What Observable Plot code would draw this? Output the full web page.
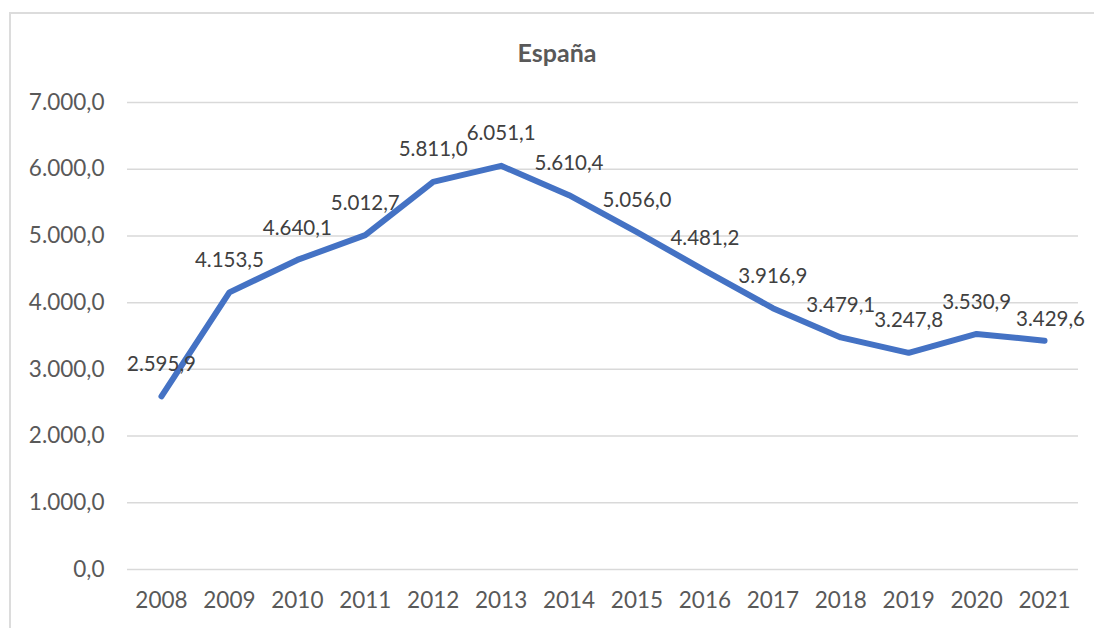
<!DOCTYPE html>
<html>
<head>
<meta charset="utf-8">
<script src="https://cdn.jsdelivr.net/npm/d3@7"></script>
<script src="https://cdn.jsdelivr.net/npm/@observablehq/plot@0.6"></script>
<style>
  html, body { margin: 0; padding: 0; background: #fff; }
  #wrap { position: relative; width: 1094px; height: 628px; overflow: hidden; font-family: Lato, "Open Sans", sans-serif; }
  #frame { position: absolute; left: 9px; top: 12px; width: 1200px; height: 700px; border-left: 2px solid #dcdcdc; border-top: 2px solid #dcdcdc; box-sizing: border-box; }
  #title { position: absolute; left: 457px; top: 37px; width: 200px; text-align: center; font-weight: bold; font-size: 25px; color: #595959; }
  #chart { position: absolute; left: 0; top: 0; }
</style>
</head>
<body>
<div id="wrap">
  <div id="frame"></div>
  <div id="chart"></div>
  <div id="title">España</div>
</div>
<script>
const years = ["2008","2009","2010","2011","2012","2013","2014","2015","2016","2017","2018","2019","2020","2021"];
const values = [2595.9, 4153.5, 4640.1, 5012.7, 5811.0, 6051.1, 5610.4, 5056.0, 4481.2, 3916.9, 3479.1, 3247.8, 3530.9, 3429.6];
const yTicks = [0, 1000, 2000, 3000, 4000, 5000, 6000, 7000];

const locale = d3.formatLocale({decimal: ",", thousands: ".", grouping: [3], currency: ["", "€"]});
const fmt = locale.format(",.1f");

const data = years.map((y, i) => ({year: y, value: values[i]}));
const lastIdx = data.length - 1;

const chart = Plot.plot({
  width: 1094,
  height: 628,
  marginLeft: 127,
  marginRight: 16,
  marginTop: 102,
  marginBottom: 59,
  style: {fontFamily: "Lato, 'Open Sans', sans-serif", background: "transparent", overflow: "visible"},
  x: {type: "point", domain: years, padding: 0.5, round: false, label: null},
  y: {domain: [0, 7000], label: null},
  marks: [
    Plot.gridY(yTicks, {stroke: "#d9d9d9", strokeOpacity: 1, strokeWidth: 1.5}),
    Plot.axisY(yTicks, {tickSize: 0, tickPadding: 23, tickFormat: fmt, fontSize: 22.5, fill: "#595959"}),
    Plot.axisX({tickSize: 0, tickPadding: 23, fontSize: 22.5, fill: "#595959"}),
    Plot.line(data, {x: "year", y: "value", stroke: "#4472C4", strokeWidth: 6, strokeLinecap: "round", strokeLinejoin: "round"}),
    Plot.text(data.slice(0, lastIdx), {x: "year", y: "value", text: d => fmt(d.value), dy: -32, fontSize: 20.5, fill: "#404040"}),
    Plot.text(data.slice(lastIdx), {x: "year", y: "value", text: d => fmt(d.value), dx: 6, dy: -21, fontSize: 20.5, fill: "#404040"})
  ]
});
document.getElementById("chart").appendChild(chart);
</script>
</body>
</html>
